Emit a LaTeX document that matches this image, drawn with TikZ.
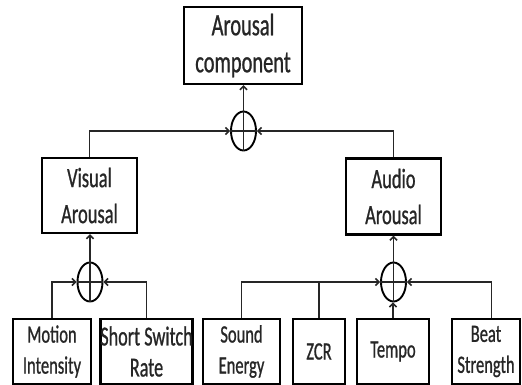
\documentclass[tikz,border=0pt]{standalone}
\usepackage{fontspec}
\setmainfont{Carlito}[FakeStretch=0.66,FakeBold=0.8]
\usetikzlibrary{arrows.meta,shapes.geometric}
\begin{document}
\begin{tikzpicture}[x=1pt,y=-1pt,
  box/.style={draw=black, line width=2.4pt, inner sep=0pt, align=center, text=black!85},
  sum/.style={draw=black, ellipse, line width=1.9pt, minimum width=25pt, minimum height=39pt, inner sep=0pt},
  conn/.style={line width=1.6pt, draw=black!85},
  arr/.style={conn, -{Straight Barb[length=3.5pt,width=7pt]}},
  big/.style={font=\fontsize{31}{37}\selectfont},
  mid/.style={font=\fontsize{28}{36}\selectfont},
  small/.style={font=\fontsize{25}{31}\selectfont}]
\useasboundingbox (0,0) rectangle (522,385);
% boxes
\node[box,big,minimum width=118pt,minimum height=77pt] (top) at (243,45.5) {Arousal\\component};
\node[box,mid,minimum width=95pt,minimum height=75pt] (vis) at (89.5,195.5) {Visual\\Arousal};
\node[box,mid,minimum width=95pt,minimum height=76pt] (aud) at (393.5,196.5) {Audio\\Arousal};
\node[box,small,minimum width=78pt,minimum height=65pt] (motion) at (52,351.5) {Motion\\Intensity};
\node[box,font=\fontsize{27.5}{31}\selectfont,minimum width=91pt,minimum height=65pt] (short) at (146.5,351.5) {Short Switch\\Rate};
\node[box,small,minimum width=77pt,minimum height=65pt] (sound) at (241.5,351.5) {Sound\\Energy};
\node[box,small,minimum width=52pt,minimum height=65pt] (zcr) at (319,351.5) {ZCR};
\node[box,small,minimum width=72pt,minimum height=65pt] (tempo) at (393,351.5) {Tempo};
\node[box,small,minimum width=68pt,minimum height=65pt] (beat) at (486,351.5) {Beat\\Strength};
% summing junctions
\node[sum] (s0) at (243.5,131) {};
\node[sum] (s1) at (90,282) {};
\node[sum] (s2) at (393.5,282) {};
\foreach \s in {s0,s1,s2}{
  \draw[conn] (\s.north) -- (\s.south) (\s.west) -- (\s.east);
}
% top level
\draw[arr] (vis.north) |- (s0.west);
\draw[arr] (aud.north) |- (s0.east);
\draw[arr] (s0.north) -- (s0.north |- top.south);
% visual
\draw[arr] (motion.north) |- (s1.west);
\draw[arr] (short.north) |- (s1.east);
\draw[arr] (s1.north) -- (s1.north |- vis.south);
% audio
\draw[arr] (sound.north) |- (s2.west);
\draw[conn] (zcr.north) -- (zcr.north |- s2.west);
\draw[arr] ([xshift=5.5pt]beat.north) |- (s2.east);
\draw[arr] (tempo.north) -- (tempo.north |- s2.south);
\draw[arr] (s2.north) -- (s2.north |- aud.south);
\end{tikzpicture}
\end{document}
